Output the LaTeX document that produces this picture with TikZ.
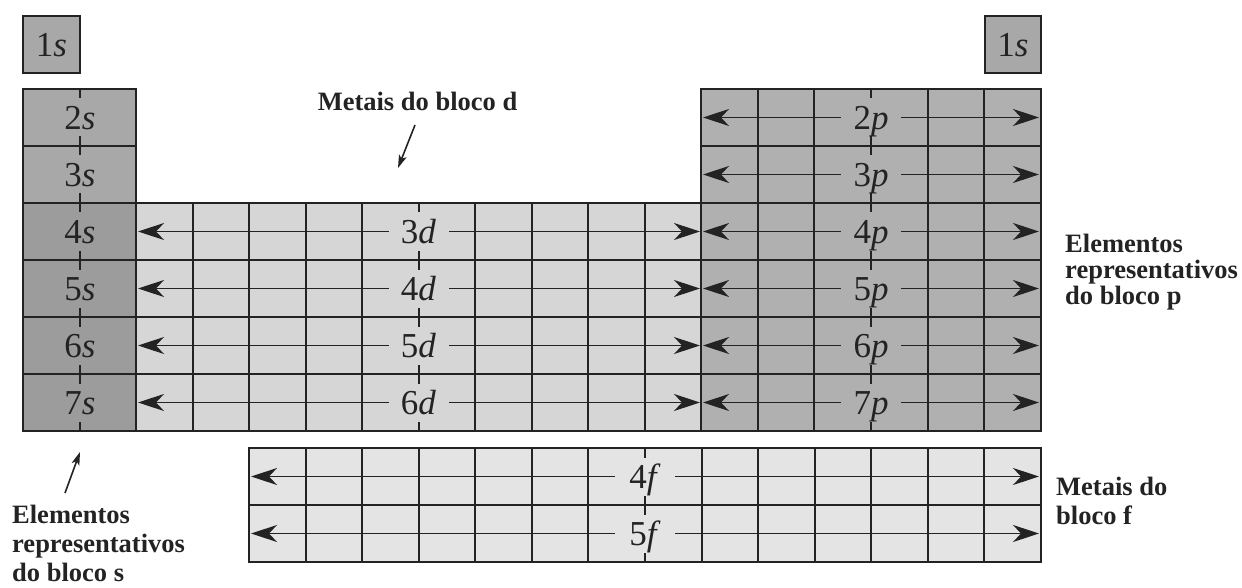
\documentclass[tikz,border=0pt]{standalone}
\usepackage{fontspec}
\setmainfont{Liberation Serif}
\usetikzlibrary{arrows.meta}
\definecolor{sfill}{RGB}{168,168,168}
\definecolor{sfillb}{RGB}{156,156,156}
\definecolor{pfill}{RGB}{176,176,176}
\definecolor{dfill}{RGB}{214,214,214}
\definecolor{ffill}{RGB}{228,228,228}
\definecolor{linec}{RGB}{35,35,35}
\newcommand\orbfont{\fontsize{35}{35}\selectfont}
\newcommand\capfont{\fontsize{26.5}{29}\selectfont\bfseries}
\newcommand\capfontb{\fontsize{26.5}{26}\selectfont\bfseries}
\begin{document}
\begin{tikzpicture}[x=1pt,y=-1pt,
  gridline/.style={draw=linec,line width=2pt},
  blockbox/.style={draw=linec,line width=2.2pt},
  orb/.style={fill=#1,inner sep=0pt,minimum width=60pt,minimum height=38pt,
    text height=24pt,text depth=0pt,font=\orbfont,text=linec},
  orbsingle/.style={inner sep=0pt,text height=24pt,text depth=0pt,font=\orbfont,text=linec},
  rowarrow/.style={draw=linec,line width=1.8pt,
    {Stealth[length=26pt,width=17pt,inset=8pt]}-{Stealth[length=26pt,width=17pt,inset=8pt]}},
  caparrow/.style={draw=linec,line width=1.6pt,-{Stealth[length=13pt,width=8pt,inset=3pt]}},
  caption/.style={font=\capfont,text=linec,inner sep=0pt,align=left},
]
\useasboundingbox (0,0) rectangle (1242,588);
% fills
\fill[sfill] (23,16) rectangle (80,73);
\fill[sfill] (985,16) rectangle (1041,73);
\fill[sfill] (23,89) rectangle (136,203);
\fill[sfillb] (23,203) rectangle (136,431);
\fill[dfill] (136,203) rectangle (701,431);
\fill[pfill] (701,89) rectangle (1041,431);
\fill[ffill] (249,448) rectangle (1041,562);
% grid: d block
\foreach \i in {1,...,9} \draw[gridline] ({136+56.5*\i},203) -- ({136+56.5*\i},431);
% grid: p block
\foreach \i in {1,...,5} \draw[gridline] ({701+56.667*\i},89) -- ({701+56.667*\i},431);
% grid: s center line
\draw[gridline] (80,89) -- (80,431);
% grid: f block
\foreach \i in {1,...,13} \draw[gridline] ({249+56.571*\i},448) -- ({249+56.571*\i},562);
\draw[gridline] (249,505) -- (1041,505);
% row lines
\draw[gridline] (23,146) -- (136,146);
\draw[gridline] (701,146) -- (1041,146);
\foreach \y in {203,260,317,374} \draw[gridline] (23,\y) -- (1041,\y);
% outlines
\draw[blockbox] (23,16) rectangle (80,73);
\draw[blockbox] (985,16) rectangle (1041,73);
\draw[blockbox] (23,89) rectangle (136,431);
\draw[blockbox] (136,203) rectangle (701,431);
\draw[blockbox] (701,89) rectangle (1041,431);
\draw[blockbox] (249,448) rectangle (1041,562);
% row arrows
\foreach \n/\y in {3/231.5,4/288.5,5/345.5,6/402.5}{
  \coordinate (dL\n) at (138,\y);
  \coordinate (dR\n) at (700,\y);
  \draw[rowarrow] (dL\n) -- (dR\n);
}
\foreach \n/\y in {2/117.5,3/174.5,4/231.5,5/288.5,6/345.5,7/402.5}{
  \coordinate (pL\n) at (703,\y);
  \coordinate (pR\n) at (1039,\y);
  \draw[rowarrow] (pL\n) -- (pR\n);
}
\foreach \n/\y in {4/476.5,5/533.5}{
  \coordinate (fL\n) at (251,\y);
  \coordinate (fR\n) at (1039,\y);
  \draw[rowarrow] (fL\n) -- (fR\n);
}
% orbital labels
\node[orbsingle] (s1a) at (51.5,44.5) {1\textit{s}};
\node[orbsingle] (s1b) at (1013,44.5) {1\textit{s}};
\foreach \n/\y in {2/117.5,3/174.5}
  \node[orb=sfill] (s\n) at (80,\y) {\n\textit{s}};
\foreach \n/\y in {4/231.5,5/288.5,6/345.5,7/402.5}
  \node[orb=sfillb] (s\n) at (80,\y) {\n\textit{s}};
\foreach \n/\y in {3/231.5,4/288.5,5/345.5,6/402.5}
  \node[orb=dfill] (d\n) at (418.5,\y) {\n\textit{d}};
\foreach \n/\y in {2/117.5,3/174.5,4/231.5,5/288.5,6/345.5,7/402.5}
  \node[orb=pfill] (p\n) at (871,\y) {\n\textit{p}};
\foreach \n/\y in {4/476.5,5/533.5}
  \node[orb=ffill] (f\n) at (645,\y) {\n\textit{f}};
% captions
\node[caption,anchor=base] (capd) at (417.5,111) {Metais do bloco d};
\coordinate (capdtail) at (415,125);
\coordinate (capdtip) at (398,168);
\draw[caparrow] (capdtail) -- (capdtip);
\node[caption,anchor=north west] (caps) at (12,505) {Elementos\\representativos\\do bloco s};
\coordinate (capstail) at (65,493);
\coordinate (capstip) at (80,452);
\draw[caparrow] (capstail) -- (capstip);
\node[caption,anchor=north west,font=\capfontb] (capp) at (1065,234) {Elementos\\representativos\\do bloco p};
\node[caption,anchor=north west] (capf) at (1056,477) {Metais do\\bloco f};
\end{tikzpicture}
\end{document}
